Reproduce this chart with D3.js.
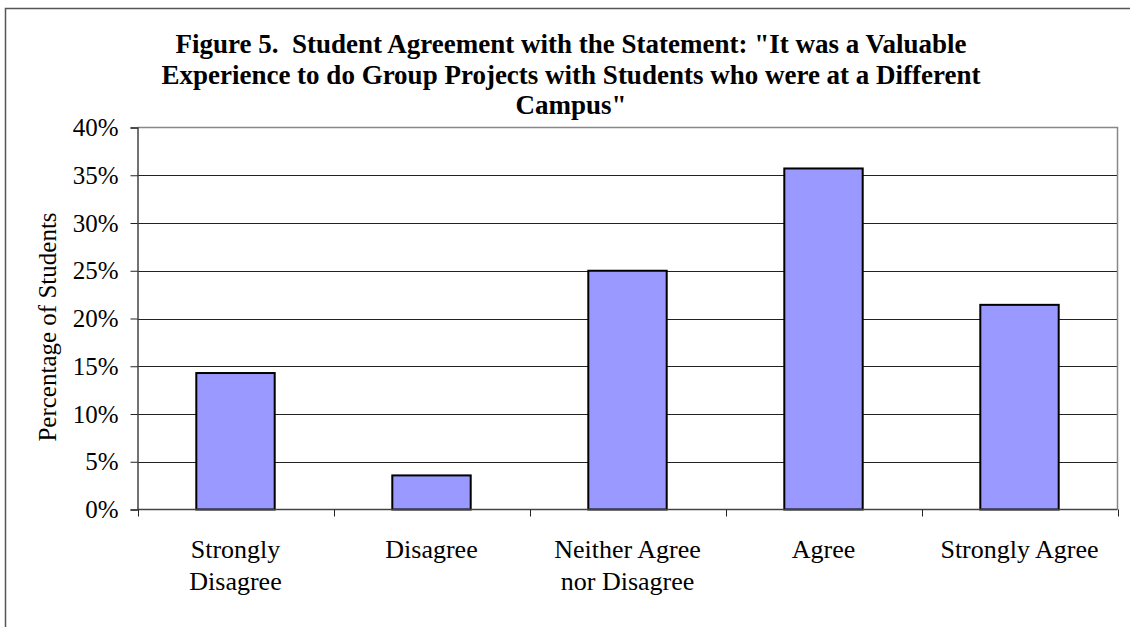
<!DOCTYPE html>
<html>
<head>
<meta charset="utf-8">
<script src="https://cdn.jsdelivr.net/npm/d3@7"></script>
<style>
  body { margin: 0; background: #fff; }
  text { font-family: "Liberation Serif", "Times New Roman", serif; fill: #000; }
</style>
</head>
<body>
<div id="chart"></div>
<script>
const categories = ["Strongly Disagree", "Disagree", "Neither Agree nor Disagree", "Agree", "Strongly Agree"];
// labels as they wrap under the axis
const categoryLines = [["Strongly", "Disagree"], ["Disagree"], ["Neither Agree", "nor Disagree"], ["Agree"], ["Strongly Agree"]];
const percentages = [14.29, 3.57, 25.0, 35.71, 21.43];
const yTicks = [0, 5, 10, 15, 20, 25, 30, 35, 40];
const titleLines = [
  "Figure 5.  Student Agreement with the Statement: \"It was a Valuable",
  "Experience to do Group Projects with Students who were at a Different",
  "Campus\""
];

const width = 1130, height = 627;
const plot = { left: 137.5, top: 127.5, right: 1117.5, bottom: 509.5 };
const labelSize = 25;

const svg = d3.select("#chart").append("svg")
  .attr("width", width)
  .attr("height", height);

// outer chart frame (runs off the bottom/right of the picture)
svg.append("rect")
  .attr("x", 5.5).attr("y", 8.5)
  .attr("width", 1140).attr("height", 640)
  .attr("fill", "none")
  .attr("stroke", "#555")
  .attr("stroke-width", 1.5);

const x = d3.scaleBand()
  .domain(categories)
  .range([plot.left, plot.right])
  .paddingInner(0.6)
  .paddingOuter(0.3);

const xEdge = d3.scaleBand()
  .domain(categories)
  .range([plot.left, plot.right]);

const y = d3.scaleLinear()
  .domain([0, 40])
  .range([plot.bottom, plot.top]);

// gridlines
svg.append("g")
  .selectAll("line")
  .data(yTicks.filter(d => d > 0 && d < 40))
  .join("line")
  .attr("x1", plot.left).attr("x2", plot.right)
  .attr("y1", d => Math.round(y(d)) + 0.5)
  .attr("y2", d => Math.round(y(d)) + 0.5)
  .attr("stroke", "#222")
  .attr("stroke-width", 1);

// plot area border (top/right grey)
svg.append("path")
  .attr("d", `M${plot.left},${plot.top}H${plot.right}V${plot.bottom}`)
  .attr("fill", "none")
  .attr("stroke", "#888")
  .attr("stroke-width", 1.5);

// bars
svg.append("g")
  .selectAll("rect")
  .data(percentages)
  .join("rect")
  .attr("x", (d, i) => x(categories[i]))
  .attr("y", d => y(d))
  .attr("width", x.bandwidth())
  .attr("height", d => y(0) - y(d))
  .attr("fill", "#9999ff")
  .attr("stroke", "#000")
  .attr("stroke-width", 2);

// y axis
const yAxis = svg.append("g")
  .attr("transform", `translate(${plot.left},0)`)
  .call(d3.axisLeft(y).tickValues(yTicks).tickFormat(d => d + "%").tickSize(7).tickPadding(12));
yAxis.attr("font-size", labelSize).attr("font-family", null);
yAxis.select(".domain").attr("stroke", "#444").attr("stroke-width", 1.5);
yAxis.selectAll(".tick line").attr("stroke", "#222");
yAxis.selectAll(".tick text").attr("fill", "#000");

// x axis line with ticks at category boundaries
const xAxis = svg.append("g");
xAxis.append("line")
  .attr("x1", plot.left).attr("x2", plot.right)
  .attr("y1", plot.bottom).attr("y2", plot.bottom)
  .attr("stroke", "#444").attr("stroke-width", 1.5);
xAxis.selectAll(".xt")
  .data(categories.map(c => xEdge(c)).concat([plot.right]))
  .join("line")
  .attr("class", "xt")
  .attr("x1", d => Math.round(d) + 0.5).attr("x2", d => Math.round(d) + 0.5)
  .attr("y1", plot.bottom).attr("y2", plot.bottom + 7)
  .attr("stroke", "#222");

// category labels
svg.append("g")
  .selectAll("text")
  .data(categoryLines)
  .join("text")
  .attr("text-anchor", "middle")
  .attr("font-size", 26)
  .attr("x", (d, i) => xEdge(categories[i]) + xEdge.bandwidth() / 2)
  .attr("y", 558)
  .selectAll("tspan")
  .data(d => d)
  .join("tspan")
  .attr("x", function() { return d3.select(this.parentNode).attr("x"); })
  .attr("dy", (d, i) => i === 0 ? 0 : 32)
  .text(d => d);

// y axis title
svg.append("text")
  .attr("transform", "translate(56,327) rotate(-90)")
  .attr("text-anchor", "middle")
  .attr("font-size", labelSize)
  .text("Percentage of Students");

// chart title
svg.append("text")
  .attr("text-anchor", "middle")
  .attr("font-size", 27)
  .attr("font-weight", "bold")
  .style("white-space", "pre")
  .selectAll("tspan")
  .data(titleLines)
  .join("tspan")
  .attr("x", 571)
  .attr("y", (d, i) => 53 + i * 30.5)
  .text(d => d);
</script>
</body>
</html>
